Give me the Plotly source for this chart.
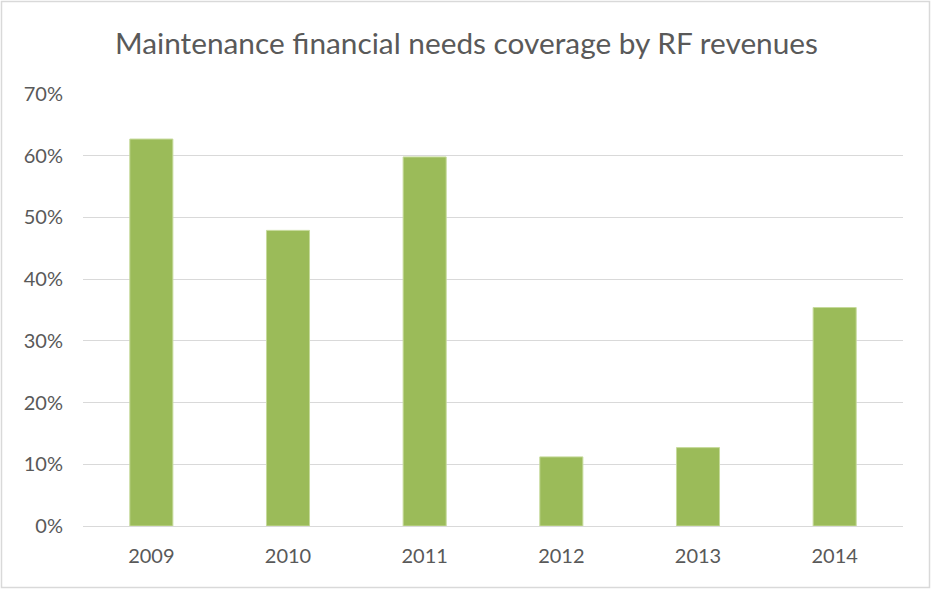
import plotly.graph_objects as go

years = ["2009", "2010", "2011", "2012", "2013", "2014"]
coverage = [0.627, 0.479, 0.598, 0.112, 0.127, 0.354]
title_text = "Maintenance financial needs coverage by RF revenues"

W, H = 933, 589
ml, mr, mt, mb = 83, 30, 94, 63
pw, ph = W - ml - mr, H - mt - mb

fig = go.Figure(go.Bar(
    x=years, y=coverage,
    marker=dict(color="#9BBB59", line=dict(color="#C6DA9B", width=1)),
    hoverinfo="x+y",
))

# outer chart border, in paper coordinates
bx0, bx1 = (1.5 - ml) / pw, (929.5 - ml) / pw
by0, by1 = (H - mb - 587.5) / ph, (H - mb - 1.5) / ph

fig.update_layout(
    width=W, height=H,
    margin=dict(l=ml, r=mr, t=mt, b=mb, autoexpand=False),
    paper_bgcolor="white", plot_bgcolor="white",
    bargap=0.685,
    showlegend=False,
    font=dict(family="Lato, Open Sans, sans-serif", color="#595959", size=20),
    title=dict(text=title_text, x=0.5, xanchor="center", xref="container",
               y=1 - 44 / H, yanchor="middle",
               font=dict(size=29.8, color="#595959")),
    xaxis=dict(showgrid=False, showline=True, linecolor="#D9D9D9", linewidth=1,
               ticks="", ticklabelstandoff=12, tickfont=dict(size=20)),
    yaxis=dict(range=[0, 0.7], dtick=0.1, tickformat=".0%",
               showgrid=True, gridcolor="#D9D9D9", gridwidth=1,
               zeroline=True, zerolinecolor="#D9D9D9", zerolinewidth=1,
               showline=False, ticks="", ticklabelstandoff=19,
               tickfont=dict(size=20)),
    shapes=[dict(type="rect", xref="paper", yref="paper",
                 x0=bx0, x1=bx1, y0=by0, y1=by1,
                 line=dict(color="#D9D9D9", width=1.5), layer="below")],
)

fig.write_html("out.html")
